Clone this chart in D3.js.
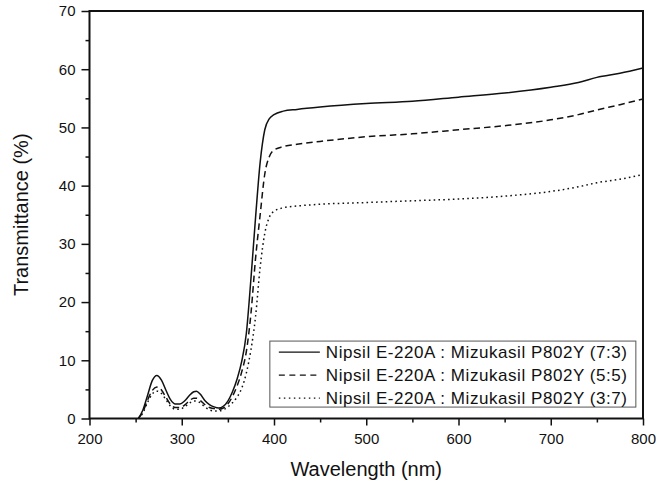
<!DOCTYPE html>
<html>
<head>
<meta charset="utf-8">
<script src="https://cdn.jsdelivr.net/npm/d3@7"></script>
<style>
  body { margin: 0; background: #fff; }
  svg text { font-family: "Liberation Sans", Arial, sans-serif; fill: #111; }
</style>
</head>
<body>
<svg id="chart" width="672" height="486"></svg>
<script>
// wavelength samples (nm)
var wavelength = [253, 258, 263, 268, 273, 278, 283, 288, 293, 298, 303, 308, 313, 316, 320, 325, 330, 335, 340, 345,
  350, 355, 360, 365, 370, 375, 380, 385, 390, 395, 400, 410, 425, 450, 500, 550, 600, 650, 700, 730, 750, 775, 800];

// transmittance (%) for each mix ratio
var ratio73 = [0, 1.5, 4.0, 6.5, 7.4, 6.6, 4.8, 3.2, 2.5, 2.5, 3.0, 3.9, 4.6, 4.7, 4.2, 3.1, 2.4, 2.0, 1.8, 2.1,
  3.0, 4.6, 6.8, 9.8, 14.6, 24.0, 34.5, 44.0, 49.6, 51.5, 52.2, 52.8, 53.1, 53.5, 54.1, 54.5, 55.2, 55.9, 56.9, 57.7, 58.6, 59.3, 60.2];
var ratio55 = [0, 1.2, 3.2, 4.8, 5.4, 4.9, 3.6, 2.4, 1.9, 1.9, 2.3, 3.0, 3.5, 3.5, 3.1, 2.4, 1.9, 1.7, 1.6, 1.8,
  2.5, 3.8, 5.6, 8.0, 11.5, 18.0, 27.5, 35.0, 42.0, 45.0, 46.1, 46.7, 47.1, 47.6, 48.4, 48.9, 49.6, 50.3, 51.3, 52.2, 53.0, 53.9, 54.9];
var ratio37 = [0, 1.0, 2.8, 4.2, 4.7, 4.3, 3.2, 2.1, 1.6, 1.6, 2.0, 2.6, 3.0, 3.0, 2.7, 2.0, 1.5, 1.3, 1.3, 1.5,
  2.0, 2.7, 3.7, 5.2, 7.8, 11.8, 17.5, 26.0, 31.8, 34.6, 35.6, 36.2, 36.5, 36.8, 37.1, 37.4, 37.7, 38.2, 39.0, 39.8, 40.5, 41.1, 41.9];

var seriesNames = ["Nipsil E-220A : Mizukasil P802Y (7:3)",
  "Nipsil E-220A : Mizukasil P802Y (5:5)",
  "Nipsil E-220A : Mizukasil P802Y (3:7)"];
var xTicks = [200, 300, 400, 500, 600, 700, 800];
var yTicks = [0, 10, 20, 30, 40, 50, 60, 70];

var margin = { top: 11, right: 29, bottom: 67.5, left: 89.5 },
    width = 672 - margin.left - margin.right,
    height = 486 - margin.top - margin.bottom;

var svg = d3.select("#chart");
var g = svg.append("g")
    .attr("transform", "translate(" + margin.left + "," + margin.top + ")");

var x = d3.scaleLinear().domain([200, 800]).range([0, width]);
var y = d3.scaleLinear().domain([0, 70]).range([height, 0]);

// minor ticks
g.append("g")
    .attr("transform", "translate(0," + height + ")")
    .call(d3.axisBottom(x).tickValues(d3.range(250, 800, 100)).tickSize(4).tickFormat(""))
    .call(a => a.select(".domain").remove())
    .selectAll("line").attr("stroke", "#111").attr("stroke-width", 1.5);
g.append("g")
    .call(d3.axisLeft(y).tickValues(d3.range(5, 70, 10)).tickSize(4).tickFormat(""))
    .call(a => a.select(".domain").remove())
    .selectAll("line").attr("stroke", "#111").attr("stroke-width", 1.5);

// major ticks
var xAxis = g.append("g")
    .attr("transform", "translate(0," + height + ")")
    .call(d3.axisBottom(x).tickValues(xTicks).tickSize(7).tickPadding(8));
xAxis.select(".domain").remove();
xAxis.selectAll("line").attr("stroke", "#111").attr("stroke-width", 1.5);
xAxis.selectAll("text").style("font-size", "15px");

var yAxis = g.append("g")
    .call(d3.axisLeft(y).tickValues(yTicks).tickSize(8).tickPadding(6));
yAxis.select(".domain").remove();
yAxis.selectAll("line").attr("stroke", "#111").attr("stroke-width", 1.5);
yAxis.selectAll("text").style("font-size", "15px");

// lines
var data = [ratio73, ratio55, ratio37];
var dashes = [null, "6.5,4", "1.6,3.2"];
var line = d3.line()
    .x(function (d, i) { return x(wavelength[i]); })
    .y(function (d) { return y(d); })
    .curve(d3.curveMonotoneX);

g.selectAll(".series")
    .data(data)
    .enter()
    .append("path")
    .attr("class", "series")
    .attr("d", line)
    .attr("fill", "none")
    .attr("stroke", "#111")
    .attr("stroke-width", 1.5)
    .attr("stroke-dasharray", (d, i) => dashes[i]);

// frame
g.append("rect")
    .attr("width", width).attr("height", height)
    .attr("fill", "none").attr("stroke", "#111").attr("stroke-width", 2);

// legend
var legendDash = [null, "6,4.5", "1.5,3.5"];
var legend = g.append("g").attr("transform", "translate(" + x(395.5) + "," + y(13.3) + ")");
legend.append("rect")
    .attr("width", 366).attr("height", 66)
    .attr("fill", "#fff").attr("stroke", "#555").attr("stroke-width", 1);
seriesNames.forEach(function (name, i) {
    var cy = 11 + i * 23;
    legend.append("line")
        .attr("x1", 9).attr("x2", 50).attr("y1", cy).attr("y2", cy)
        .attr("stroke", "#111").attr("stroke-width", 1.3)
        .attr("stroke-dasharray", legendDash[i]);
    legend.append("text")
        .attr("x", 56).attr("y", cy + 6)
        .text(name)
        .style("font-size", "17px")
        .style("letter-spacing", "0.55px");
});

// axis titles
svg.append("text")
    .attr("x", margin.left + width / 2).attr("y", 476)
    .attr("text-anchor", "middle")
    .style("font-size", "20px")
    .text("Wavelength (nm)");
svg.append("text")
    .attr("transform", "translate(28," + (margin.top + height / 2) + ") rotate(-90)")
    .attr("text-anchor", "middle")
    .style("font-size", "20px")
    .text("Transmittance (%)");
</script>
</body>
</html>
